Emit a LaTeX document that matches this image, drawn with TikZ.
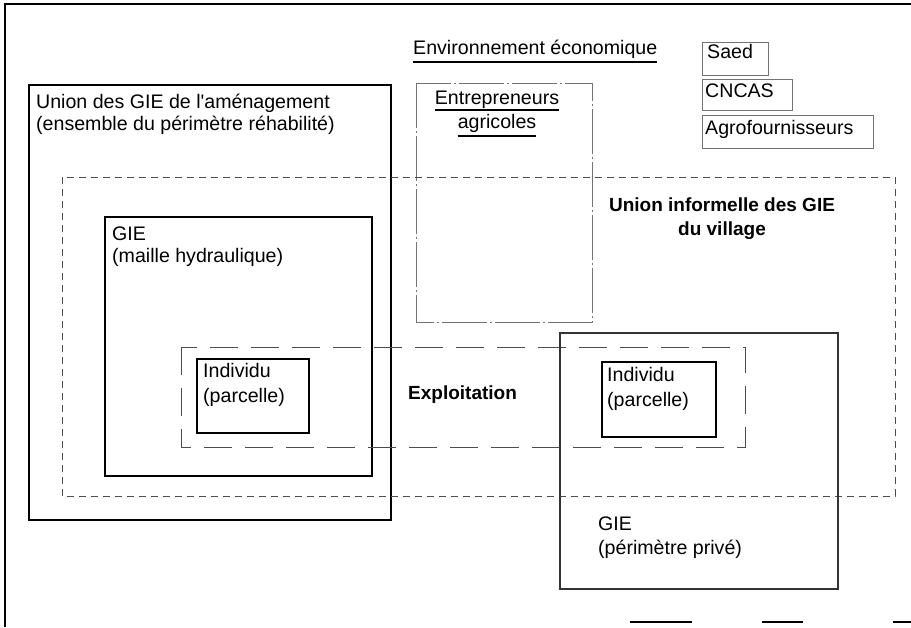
\documentclass[tikz,border=0pt]{standalone}
\usepackage{fontspec}
\setmainfont{Liberation Sans}[Ligatures=TeXOff]
\begin{document}
\begin{tikzpicture}[x=1pt,y=-1pt,
  txt/.style={font=\fontsize{19.6}{22}\selectfont, inner sep=0pt, anchor=base west},
  txtc/.style={font=\fontsize{19.6}{22}\selectfont, inner sep=0pt, anchor=base},
  btxt/.style={font=\fontsize{19}{22}\selectfont\bfseries, inner sep=0pt, anchor=base},
  btxtw/.style={font=\fontsize{19}{22}\selectfont\bfseries, inner sep=0pt, anchor=base west},
  thickbox/.style={draw=black, line width=2.2pt},
  solidbox/.style={draw=black, line width=1.6pt},
  thinbox/.style={draw=black!80, line width=1.1pt},
  smallbox/.style={draw=black!55, line width=0.8pt},
  shortdash/.style={draw=black!70, line width=0.9pt, dash pattern=on 7pt off 5pt},
  longdash/.style={draw=black!70, line width=0.9pt, dash pattern=on 28pt off 13pt},
  dotbox/.style={draw=black!55, line width=0.8pt, dash pattern=on 45pt off 3pt on 2pt off 3pt},
  uline/.style={draw=black, line width=1.3pt},
  frame/.style={draw=black, line width=1.3pt}
]
\useasboundingbox (0,0) rectangle (911,627);

% outer page frame
\draw[frame] (5,627) -- (5,4) -- (911,4);
\draw[frame, dash pattern=on 62pt off 70pt on 41pt off 90pt on 20pt] (630,622) -- (911,622);

% boxes
\draw[thickbox] (29,85) rectangle (391,520);
\draw[dotbox] (416,83) rectangle (592,322);
\draw[shortdash] (62,177) rectangle (895,496);
\draw[solidbox] (105,217) rectangle (372,476);
\draw[longdash] (181,347) rectangle (745,447);
\draw[solidbox, line width=2pt] (197,359) rectangle (309,433);
\draw[thinbox] (560,333) rectangle (838,589);
\draw[solidbox, line width=2pt] (602,362) rectangle (716,437);
\draw[smallbox] (702,42) rectangle (768,75);
\draw[smallbox] (702,79) rectangle (792,110);
\draw[smallbox] (702,115) rectangle (873,148);

% texts
\node[txt] (env) at (413,54) {Environnement économique};
\draw[uline] ([yshift=-8pt]env.base west) -- ([yshift=-8pt]env.base east);
\node[txt] (saed) at (707,58) {Saed};
\node[txt] (cncas) at (705,97) {CNCAS};
\node[txt] (agro) at (705,134) {Agrofournisseurs};
\node[txtc] (ent1) at (497,104) {Entrepreneurs};
\draw[uline] ([yshift=-6pt]ent1.base west) -- ([yshift=-6pt]ent1.base east);
\node[txtc] (ent2) at (497,128) {agricoles};
\draw[uline] ([yshift=-8pt]ent2.base west) -- ([yshift=-8pt]ent2.base east);
\node[txt] (u1) at (36,108) {Union des GIE de l'aménagement};
\node[txt] (u2) at (36,130) {(ensemble du périmètre réhabilité)};
\node[btxt] (ui1) at (722,211) {Union informelle des GIE};
\node[btxt] (ui2) at (722,235) {du village};
\node[txt] (g1) at (112,240) {GIE};
\node[txt] (g2) at (112,262) {(maille hydraulique)};
\node[txt] (i1) at (203,377) {Individu};
\node[txt] (p1) at (203,402) {(parcelle)};
\node[btxtw] (ex) at (408,399) {Exploitation};
\node[txt] (i2) at (607,381) {Individu};
\node[txt] (p2) at (607,406) {(parcelle)};
\node[txt] (g3) at (598,530) {GIE};
\node[txt] (g4) at (598,554) {(périmètre privé)};
\end{tikzpicture}
\end{document}
